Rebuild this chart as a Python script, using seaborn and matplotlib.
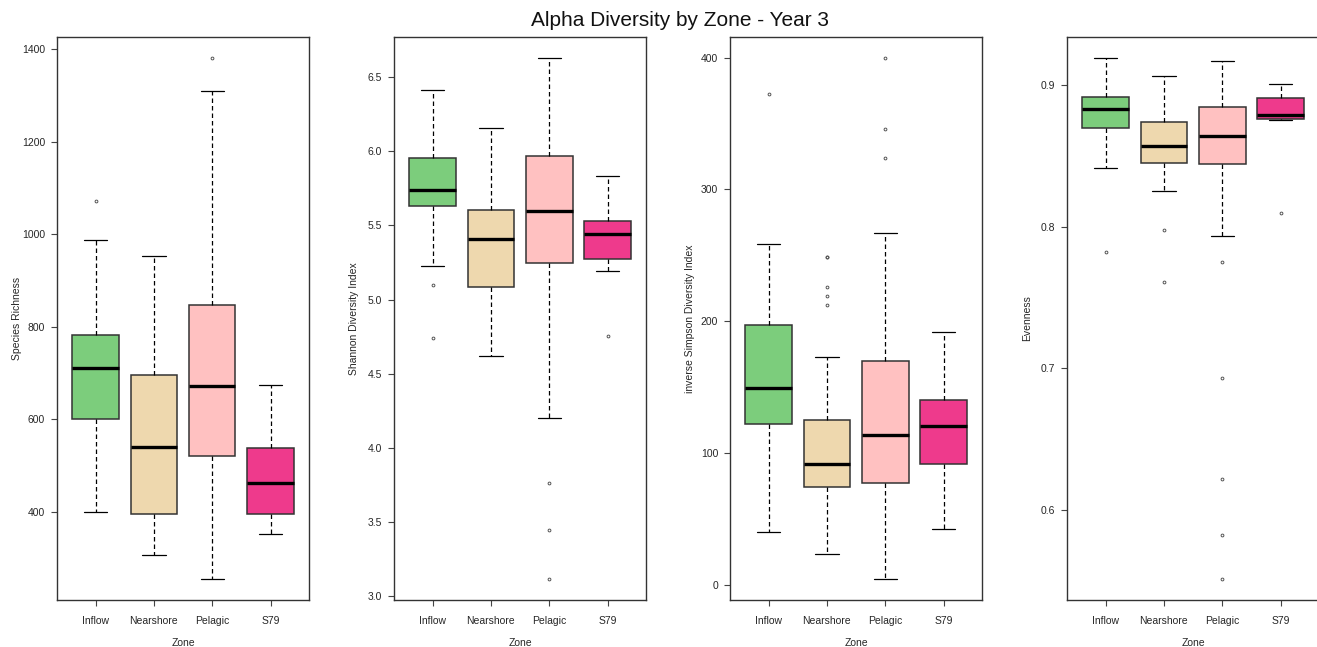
import numpy as np
import pandas as pd
import matplotlib
matplotlib.use("Agg")
import matplotlib.pyplot as plt
from matplotlib.ticker import MultipleLocator
import seaborn as sns

# Zones and their fill colours
zones = ["Inflow", "Nearshore", "Pelagic", "S79"]
zone_colors = ["#7CCD7C", "#EED8AE", "#FFC1C1", "#EE3A8C"]

# Box summaries per zone: [lower whisker, Q1, median, Q3, upper whisker]
richness_box = [
    [400, 601, 712, 782, 987],
    [307, 396, 540, 695, 954],
    [255, 521, 673, 848, 1309],
    [353, 396, 462, 539, 675],
]
richness_out = [[1071], [], [1381], []]

shannon_box = [
    [5.223, 5.634, 5.737, 5.954, 6.413],
    [4.622, 5.083, 5.409, 5.607, 6.158],
    [4.198, 5.247, 5.594, 5.970, 6.630],
    [5.191, 5.273, 5.443, 5.530, 5.833],
]
shannon_out = [[5.096, 4.741], [], [3.763, 3.443, 3.114], [4.757]]

invsimpson_box = [
    [40.3, 122.0, 149.1, 197.4, 258.6],
    [23.0, 74.3, 91.3, 125.0, 173.0],
    [4.2, 77.5, 113.9, 169.7, 267.2],
    [42.3, 91.3, 120.2, 140.2, 192.1],
]
invsimpson_out = [[372.8], [248.7, 248.7, 226.1, 219.2, 212.6],
                  [399.9, 346.0, 324.2], []]

evenness_box = [
    [0.8417, 0.8700, 0.8834, 0.8917, 0.9192],
    [0.8251, 0.8448, 0.8567, 0.8739, 0.9061],
    [0.7934, 0.8442, 0.8639, 0.8845, 0.9170],
    [0.8753, 0.8759, 0.8789, 0.8911, 0.9009],
]
evenness_out = [[0.7818], [0.7979, 0.7610],
                [0.7751, 0.6933, 0.6222, 0.5825, 0.5512], [0.8098]]

panels = [
    ("Species Richness", richness_box, richness_out, 200),
    ("Shannon Diversity Index", shannon_box, shannon_out, 0.5),
    ("inverse Simpson Diversity Index", invsimpson_box, invsimpson_out, 100),
    ("Evenness", evenness_box, evenness_out, 0.1),
]


def observations(box, out):
    """Observations of size 4k+1 whose quartiles, whiskers and
    outliers reproduce the given summary."""
    lo, q1, med, q3, hi = box
    low = sorted(v for v in out if v < med)
    high = sorted(v for v in out if v > med)
    k = max(len(low), len(high)) + 1
    vals = (low + [lo] + [q1] * (k - len(low)) + [med] * k
            + [q3] * (2 * k - len(high) - 1) + [hi] + high)
    return vals


sns.set_style("white")
plt.rcParams["font.family"] = ["Liberation Sans", "DejaVu Sans"]
text_color = "#262626"

fig = plt.figure(figsize=(13.17, 6.47), dpi=100)
W, H = 1317, 647
lefts = [57, 394, 730, 1067]
ax_w, ax_top, ax_bot = 252, 37, 600

for left, (label, boxes, outs, step) in zip(lefts, panels):
    ax = fig.add_axes([left / W, 1 - ax_bot / H, ax_w / W,
                       (ax_bot - ax_top) / H])
    rows = []
    for zone, b, o in zip(zones, boxes, outs):
        for v in observations(b, o):
            rows.append((zone, v))
    df = pd.DataFrame(rows, columns=["Zone", "value"])

    sns.boxplot(
        data=df, x="Zone", y="value", hue="Zone", order=zones,
        hue_order=zones, palette=zone_colors, legend=False, width=0.8,
        whis=1.5, saturation=1, ax=ax, linecolor="#333333", linewidth=1.0,
        boxprops=dict(edgecolor="#333333", linewidth=1.1),
        medianprops=dict(color="black", linewidth=2.4),
        whiskerprops=dict(color="black", linewidth=0.9,
                          linestyle=(0, (3.6, 2.4))),
        capprops=dict(color="black", linewidth=0.9),
        flierprops=dict(marker="o", markersize=2.0, markerfacecolor="none",
                        markeredgecolor="#555555", markeredgewidth=0.7),
    )

    allv = df["value"]
    span = allv.max() - allv.min()
    ax.set_ylim(allv.min() - 0.04 * span, allv.max() + 0.04 * span)
    ax.set_xlim(-0.66, 3.66)
    ax.yaxis.set_major_locator(MultipleLocator(step))

    for sp in ax.spines.values():
        sp.set_visible(True)
        sp.set_color("#333333")
        sp.set_linewidth(1.0)

    ax.tick_params(axis="both", which="major", direction="out",
                   bottom=True, left=True, top=False, right=False,
                   length=4.5, width=0.8, color="#444444",
                   labelsize=7.5, labelcolor=text_color)
    ax.tick_params(axis="y", pad=4)
    ax.tick_params(axis="x", pad=7)
    ax.set_ylabel(label, fontsize=7.5, color=text_color, va="center")
    ax.yaxis.set_label_coords(-40 / ax_w, 0.5)
    ax.set_xlabel("Zone", fontsize=7.5, color=text_color, va="center")
    ax.xaxis.set_label_coords(0.5, -43 / (ax_bot - ax_top))

fig.text(680 / W, 1 - 20 / H, "Alpha Diversity by Zone - Year 3",
         ha="center", va="center", fontsize=15, color="#111111")

fig.savefig("out.png", dpi=100)
